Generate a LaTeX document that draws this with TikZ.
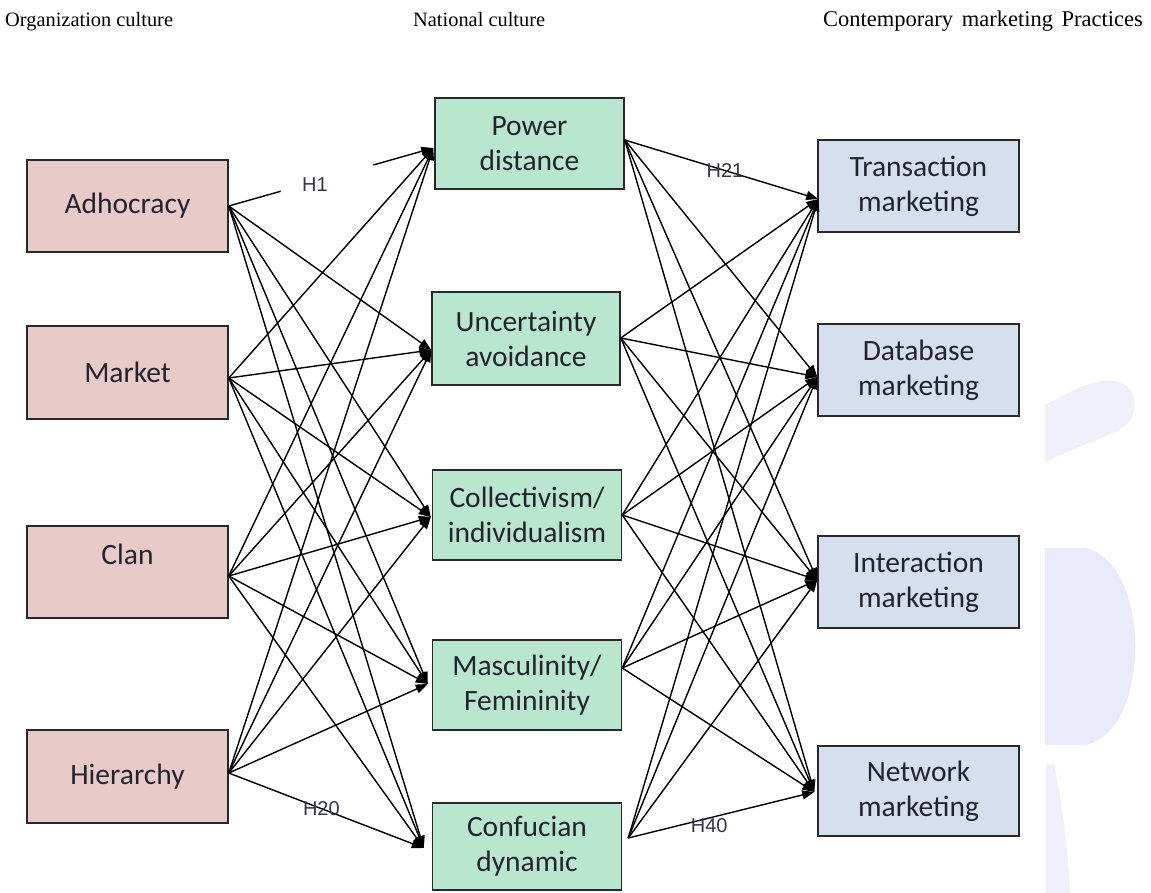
\documentclass[tikz,border=0pt]{standalone}
\usepackage{fontspec}
\setmainfont{Liberation Serif}
\newfontfamily\boxfont{Carlito}
\newfontfamily\hfont{Liberation Sans}
\usetikzlibrary{arrows.meta,calc}
\definecolor{pinkf}{RGB}{232,202,201}
\definecolor{greenf}{RGB}{184,230,206}
\definecolor{bluef}{RGB}{213,223,238}
\definecolor{bordc}{RGB}{40,40,40}
\definecolor{txtc}{RGB}{35,35,45}
\definecolor{hlab}{RGB}{50,55,75}
\definecolor{wma}{RGB}{240,240,250}
\definecolor{wmb}{RGB}{233,235,251}
\begin{document}
\begin{tikzpicture}[x=1pt,y=-1pt,
 box/.style={draw=bordc,line width=1.5pt,inner sep=0pt,align=center,font=\boxfont\fontsize{29.5}{35}\selectfont,text=txtc},
 orgbox/.style={box,fill=pinkf,minimum width=201pt,minimum height=92pt},
 natbox/.style={box,fill=greenf,minimum width=189pt,minimum height=90pt},
 mktbox/.style={box,fill=bluef,minimum width=201pt,minimum height=92pt},
 conn/.style={line width=1.4pt,-{Triangle[length=12pt,width=9pt]}},
 seg/.style={line width=1.4pt},
 hd/.style={anchor=base west,inner sep=0pt,font=\fontsize{20.4}{24}\selectfont},
 hl/.style={font=\hfont\fontsize{20}{24}\selectfont,text=hlab,inner sep=0pt}]
\useasboundingbox (0,0) rectangle (1151,893);
\fill[white] (0,0) rectangle (1151,893);

% faint watermark
\fill[wma] (1045,405) .. controls (1070,392) and (1095,376) .. (1120,382) .. controls (1142,392) and (1138,422) .. (1116,432) .. controls (1092,442) and (1070,450) .. (1045,462) -- cycle;
\fill[wmb] (1045,548) -- (1085,548) .. controls (1152,562) and (1152,732) .. (1085,745) -- (1045,745) -- cycle;
\fill[wma] (1046,764) -- (1054,764) .. controls (1062,800) and (1068,850) .. (1070,893) -- (1046,893) -- cycle;

% headers
\node[hd] (h-org) at (5,27) {Organization culture};
\node[hd] (h-nat) at (413,27) {National culture};
\node[hd,font=\fontsize{22.5}{26}\selectfont] (h-mkt) at (823,27) {Contemporary\hspace{3pt} marketing\hspace{3pt} Practices};

% organization culture
\node[orgbox] (adh) at (127.5,206) {Adhocracy};
\node[orgbox,minimum height=93pt] (mkt) at (127.5,372.5) {Market};
\node[orgbox] (clan) at (127.5,572) {Clan\\\phantom{Clan}};
\node[orgbox,minimum height=93pt] (hier) at (127.5,776.5) {Hierarchy};

% national culture
\node[natbox,minimum height=91pt] (pd) at (529.5,143.5) {Power\\distance};
\node[natbox,minimum height=93pt,minimum width=188pt] (ua) at (526,338.5) {Uncertainty\\avoidance};
\node[natbox] (col) at (527,515) {Collectivism/\\individualism};
\node[natbox] (mas) at (527,685) {Masculinity/\\Femininity};
\node[natbox,minimum height=87pt] (con) at (527,846.5) {Confucian\\dynamic};

% marketing practices
\node[mktbox] (tm) at (918.5,186) {Transaction\\marketing};
\node[mktbox] (db) at (918.5,370) {Database\\marketing};
\node[mktbox] (im) at (918.5,582) {Interaction\\marketing};
\node[mktbox,minimum height=90pt] (nm) at (918.5,791) {Network\\marketing};

% connection points
\coordinate (a1) at (adh.east);
\coordinate (a2) at ($(mkt.east)+(0,5.5)$);
\coordinate (a3) at ($(clan.east)+(0,4)$);
\coordinate (a4) at ($(hier.east)+(0,-3.5)$);
\coordinate (m1) at ($(pd.west)+(-1,4.5)$);
\coordinate (m2) at ($(ua.west)+(0,11.5)$);
\coordinate (m3) at ($(col.west)+(-1,2)$);
\coordinate (m4) at ($(mas.west)+(-4,-1)$);
\coordinate (m5) at ($(con.west)+(-8,1.5)$);
\coordinate (o1) at ($(pd.east)+(0,-3.5)$);
\coordinate (o2) at ($(ua.east)+(0,-0.5)$);
\coordinate (o3) at ($(col.east)+(0,0)$);
\coordinate (o4) at ($(mas.east)+(0,-17)$);
\coordinate (o5) at ($(con.east)+(6,-8.5)$);
\coordinate (r1) at ($(tm.west)+(1,13)$);
\coordinate (r2) at ($(db.west)+(0,7)$);
\coordinate (r3) at ($(im.west)+(0,-2)$);
\coordinate (r4) at ($(nm.west)+(-3,1)$);

% organization culture -> national culture
\foreach \s in {a2,a3,a4}{
  \foreach \t in {m1,m2,m3,m4,m5}{
    \draw[conn] (\s) -- (\t);
  }
}
\foreach \t in {m2,m3,m4,m5}{
  \draw[conn] (a1) -- (\t);
}
\draw[seg] (a1) -- ($(a1)!0.254!(m1)$);
\draw[conn] ($(a1)!0.707!(m1)$) -- (m1);
\node[hl] (lab-h1) at (315,185) {H1};
\node[hl] (lab-h20) at ($(a4)!0.475!(m5)$) {H20};

% national culture -> marketing practices
\foreach \s in {o1,o2,o3,o4,o5}{
  \foreach \t in {r1,r2,r3,r4}{
    \draw[conn] (\s) -- (\t);
  }
}
\node[hl] (lab-h21) at ($(o1)!0.518!(r1)$) {H21};
\node[hl,yshift=-8pt] (lab-h40) at ($(o5)!0.435!(r4)$) {H40};
\end{tikzpicture}
\end{document}
